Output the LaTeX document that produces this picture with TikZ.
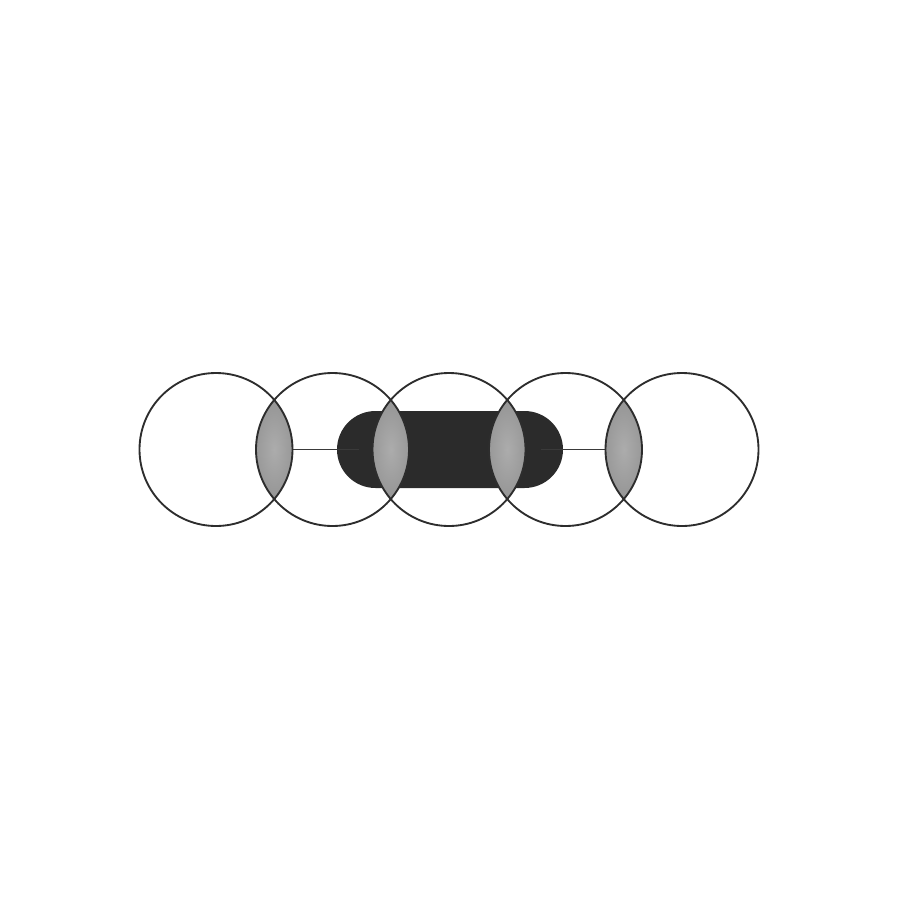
\documentclass[tikz,border=0pt]{standalone}
\usetikzlibrary{shapes.misc}

\definecolor{ringgray}{RGB}{45,45,45}
\definecolor{bargray}{RGB}{43,43,43}
\definecolor{linkgray}{RGB}{58,58,58}
\definecolor{lensin}{RGB}{172,172,172}
\definecolor{lensout}{RGB}{108,108,108}

\tikzset{every picture/.style={line width=0.75pt}}
\tikzset{
  ring/.style={circle, draw=ringgray, line width=1.4pt, minimum size=114.75pt, inner sep=0pt},
  bar/.style={rounded rectangle, fill=bargray, draw=none, minimum width=169.5pt, minimum height=57.75pt, inner sep=0pt},
  link/.style={draw=linkgray, line width=1.1pt}
}

\begin{document}
\begin{tikzpicture}[x=0.75pt,y=0.75pt,yscale=-1,xscale=1]
            \useasboundingbox (0,0) rectangle (900,900);

            %Rounded Rect
            \node [bar] (bar) at (450,449.5) {};

            %Lens centres
            \coordinate (l1) at (274.25,449.5);
            \coordinate (l2) at (390.75,449.5);
            \coordinate (l3) at (507.25,449.5);
            \coordinate (l4) at (623.75,449.5);

            %Straight Lines
            \draw [link]  (l1) -- ([xshift=17pt]bar.west) ;
            \draw [link]  ([xshift=-17pt]bar.east) -- (l4) ;

            %Shaded lenses
            \foreach \a/\b/\l in {216/332.5/l1, 332.5/449/l2, 449/565.5/l3, 565.5/682/l4} {
              \begin{scope}
                \clip (\a,449.5) circle [radius=76.5];
                \clip (\b,449.5) circle [radius=76.5];
                \shade [inner color=lensin, outer color=lensout] (\l) ellipse [x radius=60, y radius=140];
              \end{scope}
            }

            %Shape: Circles
            \node [ring] (c1) at (216,449.5) {};
            \node [ring] (c2) at (332.5,449.5) {};
            \node [ring] (c3) at (449,449.5) {};
            \node [ring] (c4) at (565.5,449.5) {};
            \node [ring] (c5) at (682,449.5) {};

\end{tikzpicture}
\end{document}
